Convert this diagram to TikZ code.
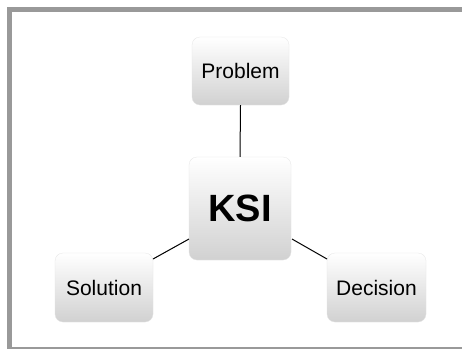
\documentclass[tikz,border=0pt]{standalone}
\usepackage{fontspec}
\setmainfont{Liberation Sans}
\begin{document}
\begin{tikzpicture}[x=1pt,y=-1pt,
  card/.style={rounded corners=8pt, top color=white, bottom color=black!18,
    draw=black!10, line width=0.3pt, inner sep=0pt},
  link/.style={draw=black, line width=1pt},
  lbl/.style={font=\fontsize{21}{23}\selectfont},
  frameband/.style={fill=black!40}]
  % page area
  \fill[white] (0,0) rectangle (462,349);
  \useasboundingbox (0,0) rectangle (462,349);
  % outer frame
  \fill[frameband] (7,7) rectangle (462,12);
  \fill[frameband] (7,7) rectangle (12,349);
  \fill[frameband] (7,347) rectangle (462,349);
  % boxes
  \node[card, minimum width=97pt, minimum height=68pt, lbl] (problem) at (240.5,71) {Problem};
  \node[card, minimum width=102pt, minimum height=103pt,
        font=\fontsize{38}{41}\selectfont\bfseries] (ksi) at (240,208.5) {KSI};
  \node[card, minimum width=98pt, minimum height=69pt, lbl] (solution) at (104,287.5) {Solution};
  \node[card, minimum width=99pt, minimum height=69pt, lbl] (decision) at (376.5,287.5) {Decision};
  % connectors
  \coordinate (ksiL) at (189,239);
  \coordinate (ksiR) at (292,239);
  \coordinate (solT) at (153,259);
  \coordinate (decT) at (327,259);
  \draw[link] (problem.south) -- (ksi.north);
  \draw[link] (ksiL) -- (solT);
  \draw[link] (ksiR) -- (decT);
\end{tikzpicture}
\end{document}
